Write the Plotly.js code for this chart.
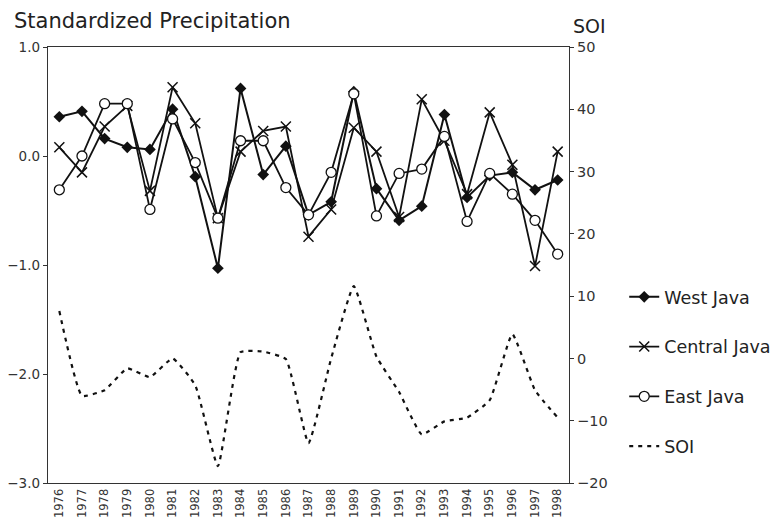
<!DOCTYPE html>
<html>
<head>
<meta charset="utf-8">
<script src="https://cdn.plot.ly/plotly-3.0.1.min.js"></script>
<style>html,body{margin:0;padding:0;background:#fff;}#chart{width:779px;height:521px;}</style>
</head>
<body>
<div id="chart"></div>
<script>
var years = ["1976","1977","1978","1979","1980","1981","1982","1983","1984","1985","1986","1987","1988","1989","1990","1991","1992","1993","1994","1995","1996","1997","1998"];
var westJava = [0.36,0.41,0.16,0.08,0.06,0.43,-0.19,-1.03,0.62,-0.17,0.09,-0.54,-0.42,0.59,-0.30,-0.59,-0.46,0.38,-0.38,-0.18,-0.15,-0.31,-0.22];
var centralJava = [0.08,-0.15,0.27,0.46,-0.32,0.63,0.30,-0.57,0.04,0.23,0.27,-0.74,-0.49,0.26,0.04,-0.56,0.52,0.14,-0.35,0.40,-0.08,-1.01,0.04];
var eastJava = [-0.31,0.00,0.48,0.48,-0.49,0.34,-0.06,-0.57,0.14,0.14,-0.29,-0.54,-0.15,0.57,-0.55,-0.16,-0.12,0.18,-0.60,-0.16,-0.35,-0.59,-0.90];
var soi = [7.6,-6.0,-5.1,-1.6,-3.0,0.0,-4.3,-17.3,1.0,1.1,-0.1,-13.6,0.0,11.6,0.3,-5.4,-12.2,-10.1,-9.5,-6.7,3.9,-5.1,-9.5];
var names = ["West Java","Central Java","East Java","SOI"];

var FONT = "'DejaVu Sans', 'Noto Sans', sans-serif";
var traces = [
  {x: years, y: westJava, name: names[0], type: "scatter", mode: "lines+markers", legendgroup: "a",
   line: {color: "#111", width: 2}, marker: {symbol: "diamond", size: 9, color: "#111"}},
  {x: years, y: centralJava, name: names[1], type: "scatter", mode: "lines+markers", legendgroup: "b",
   line: {color: "#111", width: 1.8}, marker: {symbol: "x-thin-open", size: 10, color: "#111", line: {color: "#111", width: 1.5}}},
  {x: years, y: eastJava, name: names[2], type: "scatter", mode: "lines+markers", legendgroup: "c",
   line: {color: "#111", width: 1.8}, marker: {symbol: "circle", size: 10, color: "#fff", line: {color: "#111", width: 1.3}}},
  {x: years, y: soi, name: names[3], type: "scatter", mode: "lines", yaxis: "y2", legendgroup: "d",
   line: {color: "#111", width: 2.2, dash: "4px,5px", shape: "spline", smoothing: 0.4}}
];

var layout = {
  width: 779, height: 521,
  margin: {l: 48, r: 210, t: 47, b: 38, autoexpand: false},
  paper_bgcolor: "#fff", plot_bgcolor: "#fff",
  font: {family: FONT, color: "#222", size: 12},
  showlegend: true,
  legend: {x: 1.106, y: 0.468, xanchor: "left", yanchor: "top", font: {size: 17.5, family: FONT, color: "#222"},
           tracegroupgap: 24, bgcolor: "rgba(0,0,0,0)", itemwidth: 30},
  xaxis: {type: "category", range: [-0.5, 22.5], showline: true, mirror: true, linecolor: "#333", linewidth: 1.2,
          ticks: "", tickangle: -90, tickfont: {size: 11.5, color: "#333"}, showgrid: false, zeroline: false, fixedrange: true},
  yaxis: {range: [-3, 1], dtick: 1, tickformat: ".1f", showline: true, linecolor: "#333", linewidth: 1.2,
          ticks: "outside", ticklen: 4, tickcolor: "#333", tickfont: {size: 13.5, color: "#333"},
          showgrid: false, zeroline: false},
  yaxis2: {range: [-20, 50], dtick: 10, overlaying: "y", side: "right", showline: true, linecolor: "#333", linewidth: 1.2,
           ticks: "outside", ticklen: 4, tickcolor: "#333", tickfont: {size: 14.5, color: "#333"},
           showgrid: false, zeroline: false},
  annotations: [
    {text: "Standardized Precipitation", xref: "paper", yref: "paper", x: -0.069, y: 1.0275, xanchor: "left", yanchor: "bottom",
     showarrow: false, font: {size: 21, family: FONT, color: "#222"}},
    {text: "SOI", xref: "paper", yref: "paper", x: 1.0, y: 1.018, xanchor: "left", yanchor: "bottom",
     showarrow: false, font: {size: 19, family: FONT, color: "#222"}, xshift: 2}
  ]
};
Plotly.newPlot("chart", traces, layout, {displayModeBar: false, staticPlot: true});
</script>
</body>
</html>
